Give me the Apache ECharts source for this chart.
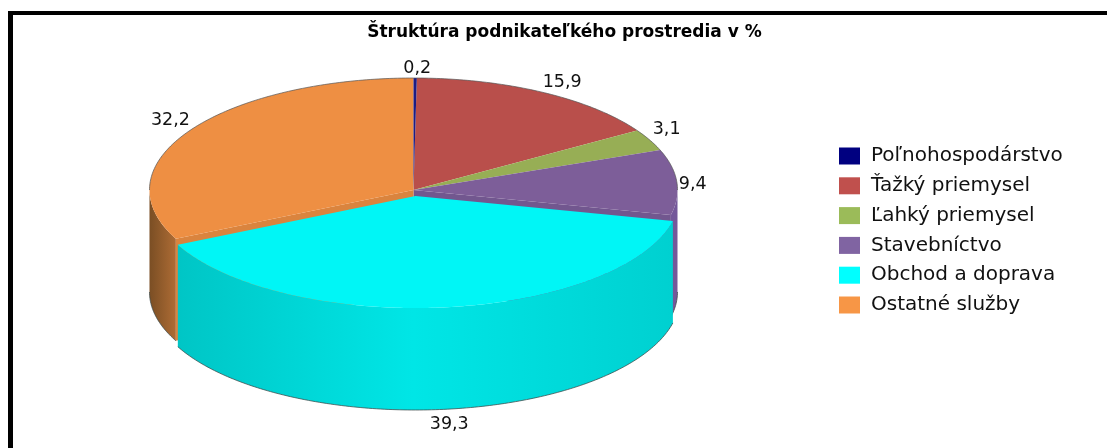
<!DOCTYPE html>
<html><head><meta charset="utf-8">
<style>html,body{margin:0;padding:0;background:#fff}#c{width:1107px;height:448px}</style>
<script src="https://cdn.jsdelivr.net/npm/echarts@6/dist/echarts.min.js"></script>
</head><body><div id="c"></div>
<script>
const categories = ['Poľnohospodárstvo','Ťažký priemysel','Ľahký priemysel','Stavebníctvo','Obchod a doprava','Ostatné služby'];
const values = [0.2,15.9,3.1,9.4,39.3,32.2];
const valueLabels = ['0,2','15,9','3,1','9,4','39,3','32,2'];
const titleText = 'Štruktúra podnikateľkého prostredia v %';

const legendColors = ['#000080','#c0504d','#9bbb59','#8064a2','#00ffff','#f79646'];
const topColors = ['#1c1c84','#b94f4b','#97ae55','#7d5e99','#00f6f6','#ee8f43'];
const wallColors = [
  ['#101060','#101060','#101060','#101060'],['#8a3a38','#8a3a38','#8a3a38','#8a3a38'],['#708240','#708240','#708240','#708240'],
  ['#6f5490','#6f5490','#6f5490','#74589a'],['#00bcbc','#00c6c6','#00e6e6','#00d0d0'],['#7a4e24','#b87238','#b87238','#b87238']];
const cutColors = {3:'#72578f',5:'#da843e'};
const explode = [[0,0],[0,0],[0,0],[0,0],[2,6],[0,0]];
const labelNudge = [[2,-10],[0,-10],[3,-11],[2,2],[4,15],[0,-10]];
const drawOrder = [1,2,3,5,0,4];
const gradientStops = [0,0.06,0.5,1];

const geo = {cx:413.5, cy:190, rx:264, ry:112, h:102};
const total = values.reduce((a,b)=>a+b,0);
const starts = []; values.reduce((acc,v,i)=>{starts[i]=acc;return acc+v;},0);
const ang = v => v/total*2*Math.PI;
const px = (a,i,dz=0) => [geo.cx+explode[i][0]+geo.rx*Math.sin(a), geo.cy+explode[i][1]-geo.ry*Math.cos(a)+dz];
const arc = (a0,a1,i,dz=0) => { const n=Math.max(2,Math.ceil((a1-a0)/0.015)); const p=[];
  for(let k=0;k<=n;k++) p.push(px(a0+(a1-a0)*k/n,i,dz)); return p; };

function render(i){
  return function(params, api){
    const a0=ang(starts[i]), a1=ang(starts[i]+api.value(0));
    const ch=[];
    const apex=[geo.cx+explode[i][0],geo.cy+explode[i][1]];
    const lo=Math.max(a0,Math.PI/2), hi=Math.min(a1,1.5*Math.PI);
    // the cut face that shows in the gap left by the pulled-out slice
    if(cutColors[i]){
      const a = i===3 ? a1 : a0, r=px(a,i);
      ch.push({type:'polygon',shape:{points:[apex,r,[r[0],r[1]+geo.h],[apex[0],apex[1]+geo.h]]},style:{fill:cutColors[i]}});
    }
    if(hi>lo){
      const top=arc(lo,hi,i), bot=arc(lo,hi,i,geo.h).reverse();
      ch.push({type:'polygon',shape:{points:top.concat(bot)},style:{fill:{type:'linear',global:true,
        x:geo.cx-geo.rx,y:0,x2:geo.cx+geo.rx,y2:0,
        colorStops:gradientStops.map((offset,k)=>({offset,color:wallColors[i][k]}))}}});
      ch.push({type:'polyline',shape:{points:arc(lo,hi,i,geo.h)},style:{stroke:'#3c4a4a',lineWidth:1,fill:null,opacity:.75}});
    }
    ch.push({type:'polygon',shape:{points:[apex].concat(arc(a0,a1,i))},style:{fill:topColors[i]}});
    if(a0<Math.PI/2||a1>1.5*Math.PI){
      const segs=[];
      if(a0<Math.PI/2) segs.push(arc(a0,Math.min(a1,Math.PI/2),i));
      if(a1>1.5*Math.PI) segs.push(arc(Math.max(a0,1.5*Math.PI),a1,i));
      segs.forEach(s=>ch.push({type:'polyline',shape:{points:s},style:{stroke:'#555',lineWidth:1,fill:null,opacity:.7}}));
    }
    const mid=(a0+a1)/2, m=px(mid,i, Math.cos(mid)<-0.5?geo.h:0), s=Math.sin(mid);
    ch.push({type:'text',silent:true,style:{text:valueLabels[i],x:m[0]+labelNudge[i][0],y:m[1]+labelNudge[i][1],
      align:Math.abs(s)<0.15?'center':(s>0?'left':'right'),verticalAlign:'middle',
      font:'17.5px "DejaVu Sans"',fill:'#111'},z2:20});
    return {type:'group',children:ch};
  };
}

const series = categories.map((name,i)=>({
  name, type:'custom', coordinateSystem:'none', data:[[values[i]]],
  z:2+drawOrder.indexOf(i), itemStyle:{color:legendColors[i]}, animation:false, silent:true,
  renderItem:render(i)
}));

const chart = echarts.init(document.getElementById('c'),null,{renderer:'canvas'});
chart.setOption({
  animation:false, backgroundColor:'#fff',
  title:{text:titleText,left:564.5,textAlign:'center',top:24,padding:0,
    textStyle:{fontFamily:'"DejaVu Sans"',fontWeight:'bold',fontSize:17,color:'#000'}},
  legend:{data:categories,orient:'vertical',left:839,top:146,padding:0,itemWidth:21,itemHeight:17,itemGap:9.8,
    icon:'rect',selectedMode:false,
    textStyle:{fontFamily:'"DejaVu Sans"',fontSize:20,color:'#111',padding:[0,0,0,6]}},
  graphic:[
    {type:'rect',shape:{x:8,y:11,width:1099,height:4},style:{fill:'#000'}},
    {type:'rect',shape:{x:8,y:11,width:5,height:437},style:{fill:'#000'}}
  ],
  series
});
</script></body></html>
